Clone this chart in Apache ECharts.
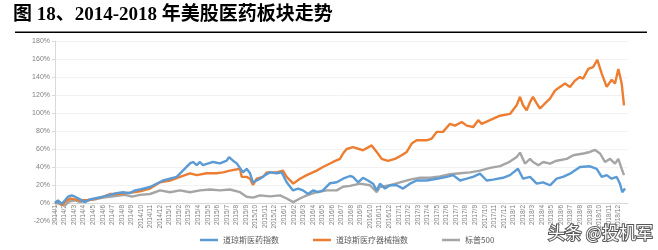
<!DOCTYPE html>
<html>
<head>
<meta charset="utf-8">
<script src="https://cdn.jsdelivr.net/npm/echarts@6/dist/echarts.min.js"></script>
<style>html,body{margin:0;padding:0;background:#fff;}#c{width:658px;height:250px;}</style>
</head>
<body>
<div id="c"></div>
<script>
const titleText = '图 18、2014-2018 年美股医药板块走势';
const seriesNames = ['道琼斯医药指数', '道琼斯医疗器械指数', '标普500'];
const monthLabels = [
 '2014/1','2014/2','2014/3','2014/4','2014/5','2014/6','2014/7','2014/8','2014/9','2014/10','2014/11','2014/12',
 '2015/1','2015/2','2015/3','2015/4','2015/5','2015/6','2015/7','2015/8','2015/9','2015/10','2015/11','2015/12',
 '2016/1','2016/2','2016/3','2016/4','2016/5','2016/6','2016/7','2016/8','2016/9','2016/10','2016/11','2016/12',
 '2017/1','2017/2','2017/3','2017/4','2017/5','2017/6','2017/7','2017/8','2017/9','2017/10','2017/11','2017/12',
 '2018/1','2018/2','2018/3','2018/4','2018/5','2018/6','2018/7','2018/8','2018/9','2018/10','2018/11','2018/12'
];
const yTicks = [-20, 180, 20]; // min, max, step (%)

// 道琼斯医药指数: month position (months since 2014/1) and return (%)
const pharmaX = [0,0.31,0.70,1.05,1.36,1.75,2.09,2.62,3.14,3.66,4.37,5.03,5.76,6.46,7.12,7.85,8.38,8.90,9.95,11.31,12.74,14.14,14.45,14.84,15.18,15.50,16.54,17.28,17.98,18.22,18.64,19.03,19.69,20.07,20.42,20.73,21.12,21.47,21.99,22.51,23.21,23.74,24.26,24.92,25.45,25.97,26.49,27.02,27.54,28.06,28.80,29.50,30.16,30.89,31.20,31.73,32.25,32.77,33.30,33.69,34.03,34.55,35.08,35.78,36.44,37.17,37.87,38.92,39.97,41.02,41.68,42.41,43.11,43.77,44.50,45.20,45.86,46.91,47.64,48.48,49.01,49.74,50.44,51.10,51.83,52.53,53.19,53.93,54.97,56.02,56.72,57.25,57.77,58.29,58.82,59.16,59.40,59.69];
const pharmaY = [0,3,-1,3,7,8.5,7,4,1,4,5.6,7,9,11,12,11,14,15,17.8,25,29,44,45.6,42,45.6,42,45.6,44,47,51,47,44,34,38,33,23,25,27,31,34,33,34,23,14,16,14,10,14,12,14,22,23,27,30,29,23,28,25,21.5,14,21.5,16,19.7,19.7,16,21.5,25,25,27,29,31,25,27,29,32.6,25,26,28,31,38,27,29,21.5,23,19.7,27,29,32.6,40,40.8,38,29,31,27,29,21.5,12,16];

// 道琼斯医疗器械指数
const deviceX = [0,0.31,0.70,1.05,1.57,2.09,2.62,3.32,4.01,5.06,5.76,6.46,7.51,8.20,8.90,9.95,11.00,12.04,13.09,14.14,14.84,15.88,16.93,17.59,18.32,19.37,19.55,20.07,20.42,20.73,21.12,21.78,22.17,23.21,23.87,24.26,24.95,25.65,26.36,27.40,28.06,29.11,29.84,30.16,30.54,31.20,32.25,33.16,33.69,34.21,34.87,35.60,36.30,36.83,37.35,37.87,38.92,39.45,39.97,40.63,41.36,41.88,42.59,43.11,43.80,44.32,44.68,45.55,46.60,47.64,48.34,48.69,49.01,49.39,49.74,50.05,50.44,50.79,51.31,51.83,52.36,52.88,53.40,53.93,54.45,54.97,55.29,55.84,56.34,56.79,57.25,57.77,58.29,58.64,58.99,59.34,59.58];
const deviceY = [0,2,-2.5,1,5,4,3,3,4,7,10,10,11,12,13,16,23,25,29,33,31,33,33,34,36,38,29,29,27,20,27,29,34,34,36,29,21.5,27,31,36,40,45.6,49,55,60,62,58.6,64,56.7,49,46.7,49,53,56.7,66,69.7,69.7,71.6,79,79,88,86,90,86,84.4,92,88,92,97,99,108.6,118,108.6,103,112,118,110.7,105,110.7,116,125,129,132.7,129,136,140,138,149,151,159,143.8,129,137,132.7,149,132.7,108.6];

// 标普500
const spxX = [0,0.52,1.00,1.57,2.09,2.62,3.46,4.19,5.03,5.76,6.49,7.33,8.06,8.90,9.95,11.00,12.04,13.09,14.14,15.18,16.23,17.28,18.32,19.37,20.07,20.73,21.47,22.51,23.56,24.26,24.95,25.65,26.36,27.40,28.45,29.50,30.16,30.89,31.94,32.98,33.69,34.03,35.08,36.13,37.17,38.22,39.27,40.31,41.36,42.41,43.46,44.50,45.55,46.60,47.64,48.34,48.69,49.21,49.74,50.05,50.61,51.13,51.83,52.53,53.58,54.27,55.32,56.02,56.54,57.07,57.59,58.12,58.64,58.99,59.34,59.58];
const spxY = [0,-1,-3,2,3,1,3,4,6,7,8,9,7,9,10,14,12,14,12,14,15,14,15,12,7,6,8.5,7.4,8.5,5,1,5,8.5,12,14,14,18,19,21.5,19.7,12,17.8,19.7,23,26,28,28,29.6,32,33,34,36,39,41,46,51,56,43.8,49,45.6,42,45.6,43.8,47,49,53,55,56.7,59,55,45.6,49,43.8,49,38,31];

const colors = ['#5B9BD5', '#ED7D31', '#A5A5A5'];

function pairs(xs, ys) { return xs.map((x, i) => [x, ys[i]]); }

const chart = echarts.init(document.getElementById('c'), null, {renderer: 'canvas'});
chart.setOption({
  animation: false,
  backgroundColor: '#fff',
  color: colors,
  grid: {left: 55, right: 30, top: 41, height: 180, containLabel: false},
  graphic: [
    {type: 'text', left: 13, top: 6, style: {text: titleText, font: 'bold 19px "Liberation Serif", "Noto Sans CJK SC"', fill: '#000'}},
    {type: 'rect', shape: {x: 15, y: 31.5, width: 632, height: 1.6}, style: {fill: '#000'}},
    {type: 'text', left: 547, top: 223, z: 100, style: {text: '头条 @投机军', font: '17px "Noto Sans CJK SC"', fill: '#fff', stroke: '#555', lineWidth: 2}}
  ],
  legend: {
    left: 200, top: 236, itemWidth: 18, itemHeight: 2.5, itemGap: 34, itemTextGap: 2,
    icon: 'rect', padding: 0,
    textStyle: {fontSize: 8, color: '#595959', fontFamily: 'Noto Sans CJK SC'},
    data: seriesNames
  },
  xAxis: {
    type: 'value', min: 0, max: 60, interval: 1,
    offset: -18,
    axisLine: {onZero: false, lineStyle: {color: '#d9d9d9', width: 1}},
    axisTick: {show: false},
    splitLine: {show: false},
    axisLabel: {
      rotate: 90, fontSize: 6.5, color: '#7f7f7f', margin: 2, fontFamily: 'Liberation Sans',
      showMaxLabel: false,
      formatter: v => monthLabels[Math.round(v)] || ''
    }
  },
  yAxis: {
    type: 'value', min: yTicks[0], max: yTicks[1], interval: yTicks[2],
    axisLine: {show: true, lineStyle: {color: '#d9d9d9'}},
    axisTick: {show: true, length: 3, lineStyle: {color: '#d9d9d9'}},
    splitLine: {show: true, lineStyle: {color: '#f2f2f2', width: 1}},
    axisLabel: {fontSize: 7, color: '#7f7f7f', margin: 5, fontFamily: 'Liberation Sans', formatter: '{value}%'}
  },
  series: [
    {name: seriesNames[0], type: 'line', showSymbol: false, data: pairs(pharmaX, pharmaY), lineStyle: {width: 2.4}, z: 3},
    {name: seriesNames[1], type: 'line', showSymbol: false, data: pairs(deviceX, deviceY), lineStyle: {width: 2.4}, z: 2},
    {name: seriesNames[2], type: 'line', showSymbol: false, data: pairs(spxX, spxY), lineStyle: {width: 2.4}, z: 1}
  ]
});
</script>
</body>
</html>
